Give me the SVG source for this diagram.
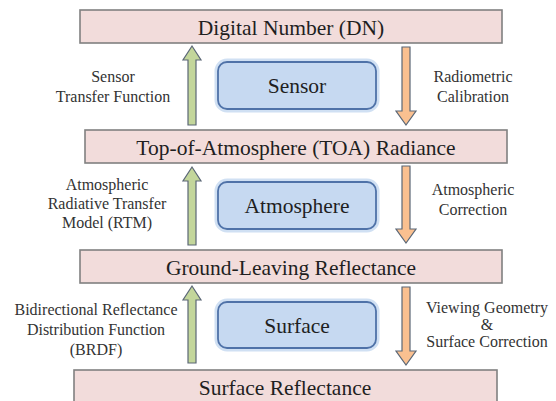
<svg xmlns="http://www.w3.org/2000/svg" width="556" height="401" viewBox="0 0 556 401">
<defs>
<style>
.lvl{fill:#f2dcdb;stroke:#808080;stroke-width:1.6}
.glow{fill:none;stroke:#bcd3ee;stroke-width:7;opacity:0.7}
.med{fill:#c6d9f1;stroke:#4f72a8;stroke-width:1.8}
.t1{font-family:'Liberation Serif','Times New Roman',serif;font-size:21.5px;fill:#1f1f1f;text-anchor:middle}
.lb{font-family:'Liberation Serif','Times New Roman',serif;font-size:16px;fill:#333333;text-anchor:middle}
.up{fill:#c3d69b;stroke:#5b6776;stroke-width:1.2;stroke-linejoin:miter}
.dn{fill:#fac090;stroke:#5b6776;stroke-width:1.2;stroke-linejoin:miter}
</style>
</defs>
<rect width="556" height="401" fill="#ffffff"/>
<g id="dn">
<rect class="lvl" x="80" y="10" width="422" height="33"/>
<text class="t1" x="291" y="35">Digital Number (DN)</text>
</g>
<g id="toa">
<rect class="lvl" x="85" y="130" width="422" height="33"/>
<text class="t1" x="296" y="155">Top-of-Atmosphere (TOA) Radiance</text>
</g>
<g id="ground">
<rect class="lvl" x="80" y="250" width="422" height="33"/>
<text class="t1" x="291" y="275">Ground-Leaving Reflectance</text>
</g>
<g id="surfrefl">
<rect class="lvl" x="74" y="370" width="423" height="40"/>
<text class="t1" x="285" y="395">Surface Reflectance</text>
</g>
<g id="sensor">
<rect class="glow" x="218" y="62" width="158" height="47" rx="9"/>
<rect class="med" x="218" y="62" width="158" height="47" rx="9"/>
<text class="t1" x="297" y="93">Sensor</text>
</g>
<g id="atmosphere">
<rect class="glow" x="218" y="182" width="158" height="47" rx="9"/>
<rect class="med" x="218" y="182" width="158" height="47" rx="9"/>
<text class="t1" x="297" y="213">Atmosphere</text>
</g>
<g id="surface">
<rect class="glow" x="218" y="302" width="158" height="46" rx="9"/>
<rect class="med" x="218" y="302" width="158" height="46" rx="9"/>
<text class="t1" x="297" y="333">Surface</text>
</g>
<g id="connectors">
<path class="up" d="M188,125 L188,60 L183,60 L192,46 L201,60 L196,60 L196,125 Z"/>
<path class="up" d="M188,245 L188,181 L183,181 L192,167 L201,181 L196,181 L196,245 Z"/>
<path class="up" d="M188,363 L188,300 L183,300 L192,286 L201,300 L196,300 L196,363 Z"/>
<path class="dn" d="M402,47 L410,47 L410,111 L416,111 L406,125 L396,111 L402,111 Z"/>
<path class="dn" d="M402,166 L410,166 L410,229 L416,229 L406,243 L396,229 L402,229 Z"/>
<path class="dn" d="M402,287 L410,287 L410,351 L416,351 L406,365 L396,351 L402,351 Z"/>
<text class="lb" x="113" y="82">Sensor</text>
<text class="lb" x="113" y="102">Transfer Function</text>
<text class="lb" x="107" y="190">Atmospheric</text>
<text class="lb" x="107" y="209">Radiative Transfer</text>
<text class="lb" x="107" y="228">Model (RTM)</text>
<text class="lb" x="96" y="315">Bidirectional Reflectance</text>
<text class="lb" x="96" y="335">Distribution Function</text>
<text class="lb" x="96" y="355">(BRDF)</text>
<text class="lb" x="473" y="82">Radiometric</text>
<text class="lb" x="473" y="102">Calibration</text>
<text class="lb" x="473" y="195">Atmospheric</text>
<text class="lb" x="473" y="215">Correction</text>
<text class="lb" x="487" y="313">Viewing Geometry</text>
<text class="lb" x="487" y="330">&amp;</text>
<text class="lb" x="487" y="347">Surface Correction</text>
</g>
</svg>
